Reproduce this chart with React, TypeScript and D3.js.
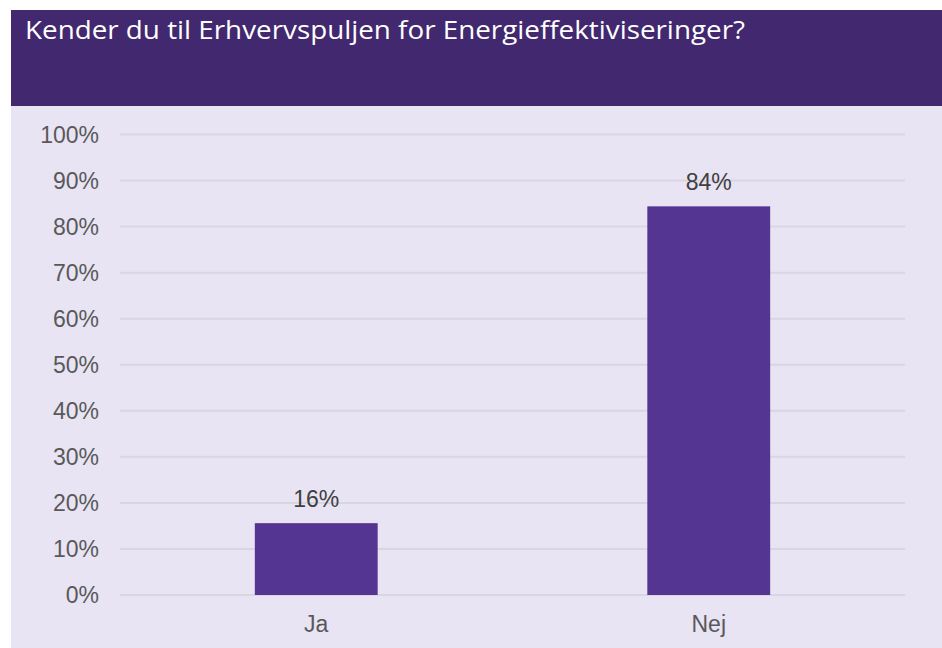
import React from 'react';
import * as d3 from 'd3';

const categories = ['Ja', 'Nej'];
const values = [15.6, 84.4];
const valueLabels = ['16%', '84%'];
const tickValues = [0, 10, 20, 30, 40, 50, 60, 70, 80, 90, 100];
const title = 'Kender du til Erhvervspuljen for Energieffektiviseringer?';

const App = () => {
  const width = 942;
  const height = 648;
  const margin = { left: 120, right: 37, top: 134.5, bottom: 53 };

  const x = d3.scaleBand<string>()
    .domain(categories)
    .range([margin.left, width - margin.right])
    .padding(0);
  const y = d3.scaleLinear()
    .domain([0, 100])
    .range([height - margin.bottom, margin.top]);

  const barWidth = x.bandwidth() * 0.313;
  const font = '"Liberation Sans", Arial, sans-serif';

  return (
    <div style={{ position: 'absolute', left: 0, top: 0 }}>
      <svg width={width} height={height} style={{ display: 'block' }}>
        <rect x={0} y={0} width={width} height={height} fill="#ffffff" />
        <rect x={11} y={10} width={width - 11} height={96} fill="#42286e" />
        <rect x={11} y={106} width={width - 11} height={height - 106} fill="#e8e4f4" />
        <text x={25} y={39} fill="#ffffff" fontSize={25}
              fontFamily='"Open Sans", "Noto Sans", sans-serif'
              textLength={720} lengthAdjust="spacingAndGlyphs">{title}</text>

        {tickValues.map(t => (
          <g key={t}>
            <line x1={margin.left} x2={width - margin.right} y1={y(t)} y2={y(t)}
                  stroke="#d9d5e1" strokeWidth={2} />
            <text x={99} y={y(t)} dy="0.36em" textAnchor="end" fill="#595959"
                  fontSize={23} fontFamily={font}>{t + '%'}</text>
          </g>
        ))}

        {categories.map((c, i) => {
          const cx = (x(c) as number) + x.bandwidth() / 2;
          return (
            <g key={c}>
              <rect x={cx - barWidth / 2} y={y(values[i])} width={barWidth}
                    height={y(0) - y(values[i])} fill="#553592" />
              <text x={cx} y={y(values[i]) - 16} textAnchor="middle" fill="#404040"
                    fontSize={23} fontFamily={font}>{valueLabels[i]}</text>
              <text x={cx} y={height - 16} textAnchor="middle" fill="#595959"
                    fontSize={23} fontFamily={font}>{c}</text>
            </g>
          );
        })}
      </svg>
    </div>
  );
};

export default App;
